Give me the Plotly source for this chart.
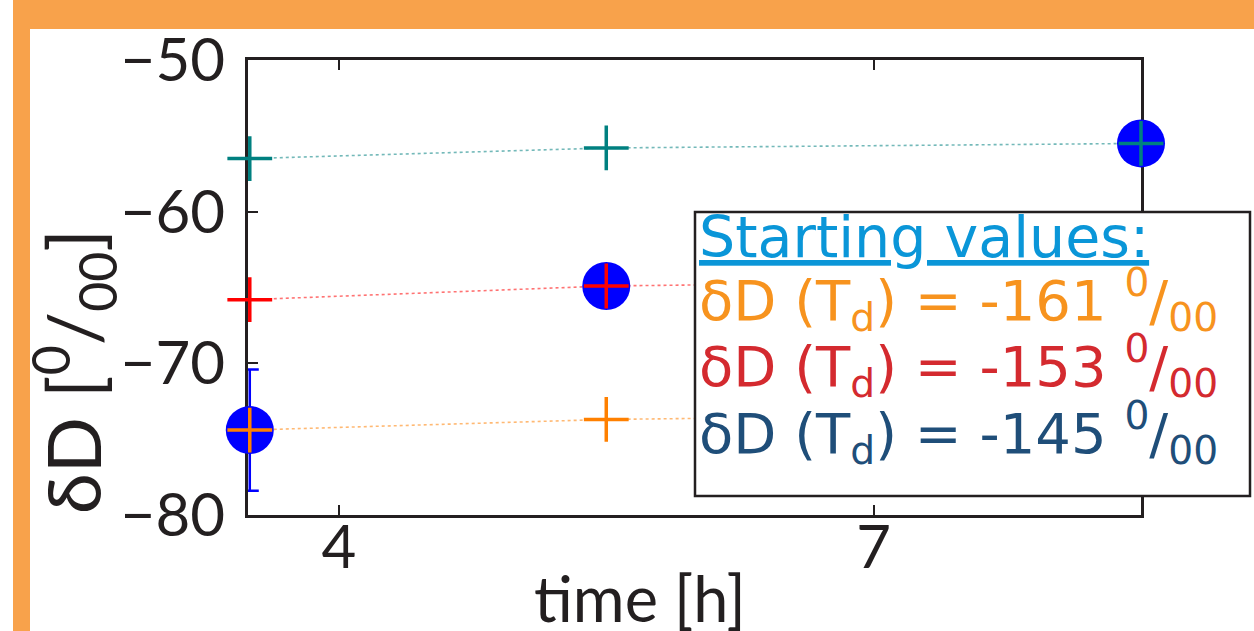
import plotly.graph_objects as go

# ---- data ----
time_h = [3.5, 5.5, 8.5]
dD_teal = [-56.5, -55.8, -55.5]
dD_red = [-65.8, -64.9, -64.5]
dD_orange = [-74.4, -73.7, -73.3]
obs_time = [3.5, 5.5, 8.5]
obs_dD = [-74.4, -64.9, -55.5]
err_time = [3.5]
err_dD = [-74.4]
err_size = [4.0]

x_ticks = [4, 7]
y_ticks = [-50, -60, -70, -80]

start_labels = ["-161", "-153", "-145"]
start_colors = ["#F7931E", "#D42A2F", "#1F4E79"]

# ---- geometry of the plot area (px) ----
W, H = 1254, 631
L, R, T, B = 248, 1141, 60, 515


def px_x(p):
    return (p - L) / (R - L)


def px_y(p):
    return (B - p) / (B - T)


fig = go.Figure()

series = [
    (dD_teal, "#008080", "rgba(0,128,128,0.55)"),
    (dD_red, "#FF0000", "rgba(255,0,0,0.55)"),
    (dD_orange, "#FF8000", "rgba(255,128,0,0.55)"),
]
for ys, mc, lc in series:
    fig.add_trace(go.Scatter(
        x=time_h, y=ys, mode="lines",
        line=dict(color=lc, width=1.6, dash="dot"),
        cliponaxis=False, showlegend=False, hoverinfo="skip"))

# error bar (clipped to the axes box)
fig.add_trace(go.Scatter(
    x=err_time, y=err_dD, mode="markers",
    marker=dict(size=1, color="rgba(0,0,0,0)"),
    error_y=dict(type="data", array=err_size, color="#0000FF",
                 thickness=2.5, width=9),
    cliponaxis=True, showlegend=False, hoverinfo="skip"))

# observed points
fig.add_trace(go.Scatter(
    x=obs_time, y=obs_dD, mode="markers",
    marker=dict(size=48, color="#0000FF", line=dict(width=0)),
    cliponaxis=False, showlegend=False))

for ys, mc, lc in series:
    fig.add_trace(go.Scatter(
        x=time_h, y=ys, mode="markers",
        marker=dict(symbol="cross-thin", size=32,
                    line=dict(color=mc, width=3.5)),
        cliponaxis=False, showlegend=False))

axis_font = dict(family="Lato", size=60, color="#231F20")
common = dict(showline=True, linewidth=3, linecolor="#231F20",
              mirror="ticks", ticks="inside", ticklen=10, tickwidth=2,
              tickcolor="#231F20", showgrid=False, zeroline=False,
              layer="below traces", tickfont=axis_font)

fig.update_xaxes(range=[3.49, 8.5], tickvals=x_ticks,
                 ticktext=[str(v) for v in x_ticks],
                 ticklabelstandoff=-22, **common)
fig.update_yaxes(range=[-80, -50], tickvals=y_ticks,
                 ticklabelstandoff=8, **common)

shapes = [
    # orange frame
    dict(type="rect", xref="paper", yref="paper",
         x0=px_x(13), x1=px_x(W + 20), y0=px_y(29), y1=px_y(-5),
         fillcolor="#F8A24B", line=dict(width=0), layer="below"),
    dict(type="rect", xref="paper", yref="paper",
         x0=px_x(13), x1=px_x(30), y0=px_y(H + 5), y1=px_y(-5),
         fillcolor="#F8A24B", line=dict(width=0), layer="below"),
    # starting values box
    dict(type="rect", xref="paper", yref="paper",
         x0=px_x(695), x1=px_x(1250), y0=px_y(496), y1=px_y(212),
         fillcolor="white", line=dict(color="#231F20", width=2.5),
         layer="above"),
]

annotations = [
    dict(text="δD [<sup>0</sup>/<sub>00</sub>]", textangle=-90,
         xref="paper", yref="paper", x=px_x(73), y=px_y(372),
         xanchor="center", yanchor="middle",
         showarrow=False, font=dict(family="Lato", size=74, color="#231F20")),
    dict(text="time [h]", xref="paper", yref="paper",
         x=px_x(640), y=px_y(597), xanchor="center", yanchor="middle",
         showarrow=False,
         font=dict(family="Lato", size=63, color="#231F20")),
    dict(text="<u>Starting values:</u>", xref="paper", yref="paper",
         x=px_x(697), y=px_y(237), xanchor="left", yanchor="middle",
         showarrow=False,
         font=dict(family="DejaVu Sans", size=57, color="#0A96D8")),
]
row_y = [300, 366, 433]
for lab, col, yy in zip(start_labels, start_colors, row_y):
    annotations.append(dict(
        text="δD (T<sub>d</sub>) = " + lab + " <sup>0</sup>/<sub>00</sub>",
        xref="paper", yref="paper", x=px_x(697), y=px_y(yy),
        xanchor="left", yanchor="middle", showarrow=False,
        font=dict(family="DejaVu Sans", size=56, color=col)))

fig.update_layout(
    width=W, height=H,
    margin=dict(l=L, r=W - R, t=T, b=H - B),
    paper_bgcolor="white", plot_bgcolor="white",
    shapes=shapes, annotations=annotations, showlegend=False)

fig.write_html("out.html")
